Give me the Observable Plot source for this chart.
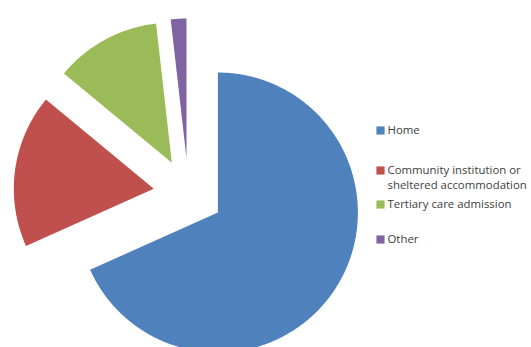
<!DOCTYPE html>
<html>
<head>
<meta charset="utf-8">
<script src="https://cdn.jsdelivr.net/npm/d3@7"></script>
<script src="https://cdn.jsdelivr.net/npm/@observablehq/plot@0.6"></script>
<style>
  html, body { margin: 0; padding: 0; background: #fff; overflow: hidden; }
  #chart { width: 531px; height: 347px; }
</style>
</head>
<body>
<div id="chart"></div>
<script>
// ---- data ----
const categories = ["Home", "Community institution or\nsheltered accommodation", "Tertiary care admission", "Other"];
const shares = [68.3, 17.7, 12.2, 1.8];
const colors = ["#4F81BD", "#C0504D", "#9BBB59", "#8064A2"];

// ---- layout ----
const W = 531, H = 347;
const cx = 188, cy = 193, R = 140, explode = 35;
const legendX = 380, legendTextX = 387;
const legendRowY = [130, 170, 204, 239];
const legendLineGap = 15;

// pie geometry from data
const arcs = d3.pie().sort(null).value(d => d.v)(categories.map((c, i) => ({c, v: shares[i]})));
const polyPts = [];
arcs.forEach(a => {
  const mid = (a.startAngle + a.endAngle) / 2;
  const ox = cx + explode * Math.sin(mid), oy = cy - explode * Math.cos(mid);
  polyPts.push({cat: a.data.c, x: ox, y: oy});
  const n = Math.max(4, Math.ceil((a.endAngle - a.startAngle) / 0.01));
  for (let k = 0; k <= n; k++) {
    const t = a.startAngle + (a.endAngle - a.startAngle) * k / n;
    polyPts.push({cat: a.data.c, x: ox + R * Math.sin(t), y: oy - R * Math.cos(t)});
  }
  polyPts.push({cat: a.data.c, x: ox, y: oy});
});

const legendItems = categories.map((c, i) => ({cat: c, y: legendRowY[i]}));
const legendLines = [];
categories.forEach((c, i) => c.split("\n").forEach((t, j) => legendLines.push({t, y: legendRowY[i] + j * legendLineGap})));

const plot = Plot.plot({
  width: W, height: H,
  margin: 0,
  x: {domain: [0, W], range: [0, W], axis: null},
  y: {domain: [0, H], range: [0, H], axis: null},
  color: {domain: categories, range: colors},
  style: {fontFamily: "'Open Sans', sans-serif", background: "#fff"},
  marks: [
    Plot.line(polyPts, {x: "x", y: "y", z: "cat", fill: "cat", stroke: null, curve: "linear", clip: true}),
    Plot.dot(legendItems, {x: () => legendX, y: "y", symbol: "square", r: 4.6, fill: "cat", stroke: null}),
    Plot.text(legendLines, {x: () => legendTextX, y: "y", text: "t", textAnchor: "start", fontSize: 11.4, fill: "#404040"})
  ]
});
document.getElementById("chart").appendChild(plot);
</script>
</body>
</html>
